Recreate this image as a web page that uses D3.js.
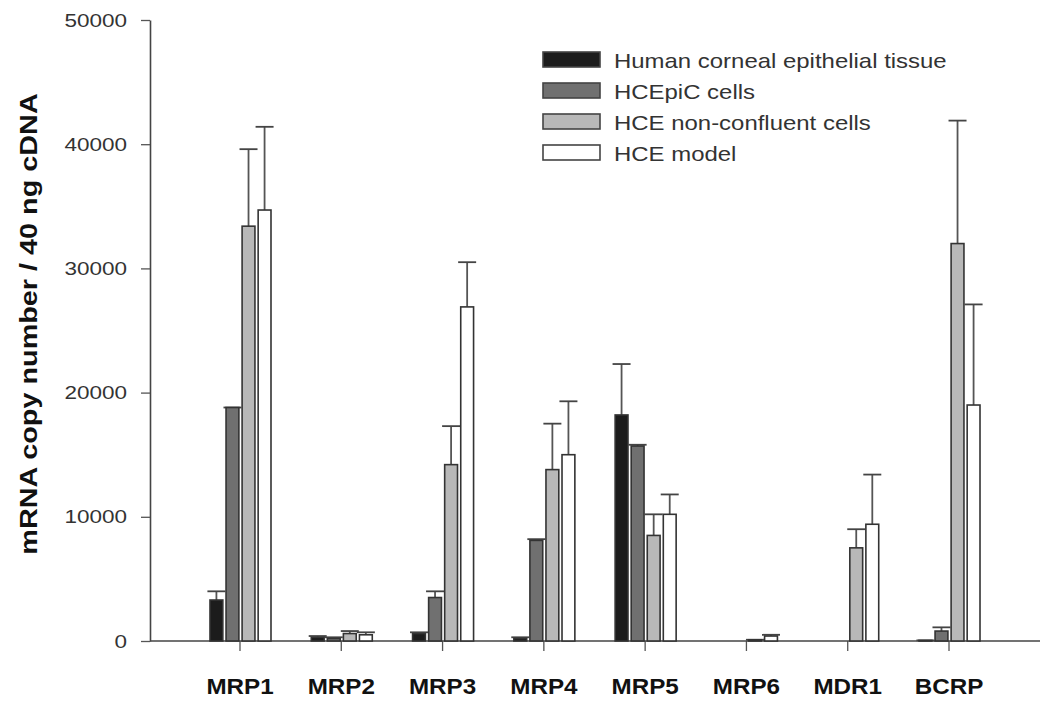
<!DOCTYPE html>
<html><head><meta charset="utf-8">
<script src="https://cdn.jsdelivr.net/npm/d3@7"></script>
<style>body{margin:0;background:#fff}svg{display:block}</style>
</head><body>
<svg id="c" width="1050" height="706"></svg>
<script>
const categories = ["MRP1","MRP2","MRP3","MRP4","MRP5","MRP6","MDR1","BCRP"];
const seriesNames = ["Human corneal epithelial tissue","HCEpiC cells","HCE non-confluent cells","HCE model"];
const tissue     = [3300, 300, 600, 200, 18200, 0, 0, 50];
const tissueErr  = [700, 100, 100, 100, 4100, 0, 0, 0];
const hcepic     = [18800, 200, 3500, 8100, 15700, 0, 0, 800];
const hcepicErr  = [0, 100, 500, 100, 100, 0, 0, 300];
const nonconf    = [33400, 600, 14200, 13800, 8500, 100, 7500, 32000];
const nonconfErr = [6200, 200, 3100, 3700, 1700, 0, 1500, 9900];
const model      = [34700, 500, 26900, 15000, 10200, 400, 9400, 19000];
const modelErr   = [6700, 200, 3600, 4300, 1600, 100, 4000, 8100];
const yTicks = [0, 10000, 20000, 30000, 40000, 50000];

const values = [tissue, hcepic, nonconf, model];
const errors = [tissueErr, hcepicErr, nonconfErr, modelErr];
const fills = ["#1c1c1c", "#707070", "#b8b8b8", "#ffffff"];
const FONT = "Liberation Sans, Arial, sans-serif";

function stretch(sel, k) {
  sel.each(function(){
    const L = this.getComputedTextLength();
    d3.select(this).attr("textLength", L*k).attr("lengthAdjust","spacingAndGlyphs");
  });
}

const svg = d3.select("#c");
const y = d3.scaleLinear().domain([0, 50000]).range([641, 20]);
const x0 = d3.scaleBand().domain(categories).range([189.35, 999.65]).padding(0);
const x1 = d3.scaleBand().domain(d3.range(4)).range([-30, 31]).paddingInner(0.2);

// y axis
const yAxis = d3.axisLeft(y).tickValues(yTicks).tickSize(9).tickSizeOuter(0).tickFormat(d3.format("d"));
const gy = svg.append("g").attr("transform","translate(150,0)").call(yAxis);
gy.select(".domain").attr("stroke","#444").attr("stroke-width",1.6);
gy.selectAll(".tick line").attr("stroke","#555").attr("stroke-width",1.3);
gy.selectAll(".tick text").attr("font-family",FONT).attr("font-size",18).attr("fill","#333").attr("x",-23).attr("dy","0.34em");
stretch(gy.selectAll(".tick text"), 1.25);

// x axis
const xAxis = d3.axisBottom(x0).tickSize(10).tickSizeOuter(0);
const gx = svg.append("g").attr("transform","translate(0,641)").call(xAxis);
gx.select(".domain").remove();
gx.append("line").attr("x1",150).attr("x2",1040).attr("y1",0).attr("y2",0).attr("stroke","#444").attr("stroke-width",1.6);
gx.selectAll(".tick line").attr("stroke","#555").attr("stroke-width",1.3);
gx.selectAll(".tick text").attr("font-family",FONT).attr("font-size",22).attr("font-weight","bold").attr("fill","#111").attr("y",53).attr("dy",0);
stretch(gx.selectAll(".tick text"), 1.1);

// bars
const data = [];
categories.forEach((c,i)=>{ for(let s=0;s<4;s++) data.push({c, s, v: values[s][i], e: errors[s][i]}); });

const bx = d => x0(d.c) + x0.bandwidth()/2 + x1(d.s);
const eb = svg.append("g");
data.filter(d=>d.v>0).forEach(d=>{
  const cx = bx(d) + x1.bandwidth()/2;
  eb.append("line").attr("x1",cx).attr("x2",cx).attr("y1",y(d.v)).attr("y2",y(d.v+d.e)).attr("stroke","#555").attr("stroke-width",1.8);
  eb.append("line").attr("x1",cx-9).attr("x2",cx+9).attr("y1",y(d.v+d.e)).attr("y2",y(d.v+d.e)).attr("stroke","#444").attr("stroke-width",1.8);
});
svg.append("g").selectAll("rect").data(data.filter(d=>d.v>0)).join("rect")
  .attr("x", bx).attr("width", x1.bandwidth())
  .attr("y", d=>y(d.v)).attr("height", d=>y(0)-y(d.v))
  .attr("fill", d=>fills[d.s]).attr("stroke","#333").attr("stroke-width",1.6);

// legend
const lg = svg.append("g");
seriesNames.forEach((n,i)=>{
  const top = 52 + i*31;
  lg.append("rect").attr("x",543).attr("y",top).attr("width",57).attr("height",15).attr("fill",fills[i]).attr("stroke","#444").attr("stroke-width",1.6);
  lg.append("text").attr("x",614).attr("y",top+16).text(n).attr("font-family",FONT).attr("font-size",21).attr("fill","#333");
});
stretch(lg.selectAll("text"), 1.14);

// y title
const yt = svg.append("text").attr("transform","translate(37,324) rotate(-90)").attr("text-anchor","middle")
  .attr("font-family",FONT).attr("font-size",24).attr("font-weight","bold").attr("fill","#111")
  .text("mRNA copy number / 40 ng cDNA");
stretch(yt, 1.2);
</script>
</body></html>
